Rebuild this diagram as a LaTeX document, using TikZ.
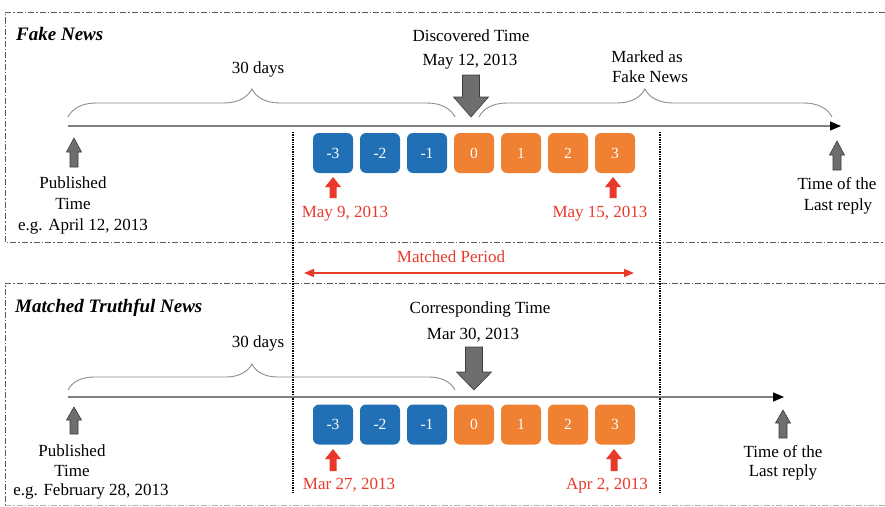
\documentclass[tikz,border=0pt]{standalone}
\usepackage{fontspec}
\setmainfont{Liberation Serif}
\usetikzlibrary{decorations.pathreplacing,arrows.meta}
\definecolor{sqblue}{HTML}{2170B5}
\definecolor{sqorange}{HTML}{F08032}
\definecolor{datered}{HTML}{E8392B}
\definecolor{arrgrey}{HTML}{6E6E6E}
\definecolor{arrdark}{HTML}{3C3C3C}
\definecolor{linegrey}{HTML}{7F7F7F}
\begin{document}
\begin{tikzpicture}[x=1pt,y=-1pt,
  txt/.style={font=\fontsize{17}{20}\selectfont, inner sep=0pt, anchor=base},
  redtxt/.style={txt, text=datered},
  title/.style={font=\fontsize{19}{22}\selectfont\bfseries\itshape, inner sep=0pt, anchor=base west},
  sq/.style={minimum width=40pt, minimum height=40pt, rounded corners=6pt, inner sep=0pt,
    text=white, font=\fontsize{15}{15}\selectfont},
  bluesq/.style={sq, fill=sqblue},
  orangesq/.style={sq, fill=sqorange},
  sqnum/.style={text=white, font=\fontsize{15.5}{15.5}\selectfont},
  boxline/.style={draw=black!65, line width=0.9pt, dash pattern=on 6pt off 2pt on 1.5pt off 2pt},
  faintbox/.style={draw=black!30, line width=0.8pt, dash pattern=on 6pt off 2pt on 1.5pt off 2pt},
  vdots/.style={draw=black, line width=1.5pt, dash pattern=on 1.3pt off 1.1pt},
  timeline/.style={draw=linegrey, line width=1.4pt, -{Triangle[length=11pt,width=9pt,color=black]}},
  bracestyle/.style={draw=linegrey!90, line width=0.9pt, decorate},
  greyarr/.style={fill=arrgrey, draw=arrdark, line width=0.6pt},
  redarr/.style={fill=datered},
  pics/uparr/.style args={#1/#2/#3/#4}{code={
    \path[pic actions] (0,0) -- (#2/2,#4) -- (#3/2,#4) -- (#3/2,#1) -- (-#3/2,#1)
      -- (-#3/2,#4) -- (-#2/2,#4) -- cycle;}},
  pics/downarr/.style args={#1/#2/#3/#4}{code={
    \path[pic actions] (0,0) -- (#2/2,-#4) -- (#3/2,-#4) -- (#3/2,-#1) -- (-#3/2,-#1)
      -- (-#3/2,-#4) -- (-#2/2,-#4) -- cycle;}}
]
\useasboundingbox (0,0) rectangle (885,506);

% ---------- frames ----------
\draw[boxline] (885,12) -- (5,12) -- (5,242) -- (885,242);
\draw[boxline] (885,283) -- (5,283) -- (5,505);
\draw[faintbox] (5,505) -- (885,505);

% ---------- vertical dotted lines ----------
\coordinate (vl1) at (293,132); \coordinate (vl2) at (293,493);
\coordinate (vr1) at (660,132); \coordinate (vr2) at (660,493);
\draw[vdots] (vl1) -- (vl2);
\draw[vdots] (vr1) -- (vr2);

% ================= FAKE NEWS =================
\node[title] (fn) at (16,40) {Fake News};

\coordinate (t1s) at (68,126); \coordinate (t1e) at (841,126);
\draw[timeline] (t1s) -- (t1e);

% braces
\coordinate (b1a) at (68,117); \coordinate (b1b) at (455,117);
\draw[bracestyle, decoration={brace, amplitude=28pt, aspect=0.475}] (b1a) -- (b1b);
\node[txt] (d1) at (258,73) {30 days};
\coordinate (b2a) at (479,117); \coordinate (b2b) at (832,117);
\draw[bracestyle, decoration={brace, amplitude=28pt, aspect=0.47}] (b2a) -- (b2b);
\node[txt] (mk1) at (647,62) {Marked as};
\node[txt] (mk2) at (650,82) {Fake News};

% discovered time
\node[txt] (disc) at (471,41) {Discovered Time};
\node[txt] (disd) at (470,65) {May 12, 2013};
\pic[greyarr] (discarr) at (471,117) {downarr={42/35/17/20}};

% squares
\foreach \n/\x/\s in {m3/333/bluesq, m2/380/bluesq, m1/427/bluesq, z/474/orangesq,
                      p1/521/orangesq, p2/568/orangesq, p3/615/orangesq}{
  \node[\s] (A\n) at (\x,153) {};
}
\node[sqnum] (An1) at (Am3) {-3};
\node[sqnum] (An2) at (Am2) {-2};
\node[sqnum] (An3) at (Am1) {-1};
\node[sqnum] (An4) at (Az)  {0};
\node[sqnum] (An5) at (Ap1) {1};
\node[sqnum] (An6) at (Ap2) {2};
\node[sqnum] (An7) at (Ap3) {3};

% red arrows and dates
\pic[redarr] (ra1) at (333,177) {uparr={21/16/7/10}};
\pic[redarr] (ra2) at (613,177) {uparr={21/16/7/10}};
\node[redtxt] (rd1) at (345,217) {May 9, 2013};
\node[redtxt] (rd2) at (600,217) {May 15, 2013};

% published / last reply
\pic[greyarr] (pa1) at (74,138) {uparr={29/15/8/14}};
\node[txt] (pub1) at (73,188) {Published};
\node[txt] (pub2) at (73,209) {Time};
\node[txt] (pub3) at (83,230) {e.g. April 12, 2013};
\pic[greyarr] (la1) at (837,141) {uparr={29/15/8/14}};
\node[txt] (lr1) at (837,189) {Time of the};
\node[txt] (lr2) at (838,210) {Last reply};

% ================= MATCHED PERIOD =================
\node[redtxt] (mp) at (451,262) {Matched Period};
\coordinate (mpa) at (304,273); \coordinate (mpb) at (634,273);
\draw[datered, line width=1.5pt, {Triangle[length=10pt,width=8pt]}-{Triangle[length=10pt,width=8pt]}] (mpa) -- (mpb);

% ================= MATCHED TRUTHFUL NEWS =================
\node[title] (mtn) at (15,312) {Matched Truthful News};

\coordinate (t2s) at (68,397); \coordinate (t2e) at (784,397);
\draw[timeline] (t2s) -- (t2e);

\coordinate (b3a) at (68,390); \coordinate (b3b) at (455,390);
\draw[bracestyle, decoration={brace, amplitude=26pt, aspect=0.475}] (b3a) -- (b3b);
\node[txt] (d2) at (258,347) {30 days};

\node[txt] (corr) at (480,313) {Corresponding Time};
\node[txt] (cord) at (473,339) {Mar 30, 2013};
\pic[greyarr] (corarr) at (474,390) {downarr={43/35/17/18}};

\foreach \n/\x/\s in {m3/333/bluesq, m2/380/bluesq, m1/427/bluesq, z/474/orangesq,
                      p1/521/orangesq, p2/568/orangesq, p3/615/orangesq}{
  \node[\s] (B\n) at (\x,424.5) {};
}
\node[sqnum] (Bn1) at (Bm3) {-3};
\node[sqnum] (Bn2) at (Bm2) {-2};
\node[sqnum] (Bn3) at (Bm1) {-1};
\node[sqnum] (Bn4) at (Bz)  {0};
\node[sqnum] (Bn5) at (Bp1) {1};
\node[sqnum] (Bn6) at (Bp2) {2};
\node[sqnum] (Bn7) at (Bp3) {3};

\pic[redarr] (ra3) at (333,449) {uparr={22/16/7/10}};
\pic[redarr] (ra4) at (614,449) {uparr={22/16/7/10}};
\node[redtxt] (rd3) at (349,489) {Mar 27, 2013};
\node[redtxt] (rd4) at (607,489) {Apr 2, 2013};

\pic[greyarr] (pa2) at (74,407) {uparr={27/15/8/13}};
\node[txt] (pub4) at (72,456) {Published};
\node[txt] (pub5) at (72,476) {Time};
\node[txt] (pub6) at (91,495) {e.g. February 28, 2013};
\pic[greyarr] (la2) at (783,410) {uparr={28/15/8/13}};
\node[txt] (lr3) at (783,457) {Time of the};
\node[txt] (lr4) at (783,476) {Last reply};
\end{tikzpicture}
\end{document}
